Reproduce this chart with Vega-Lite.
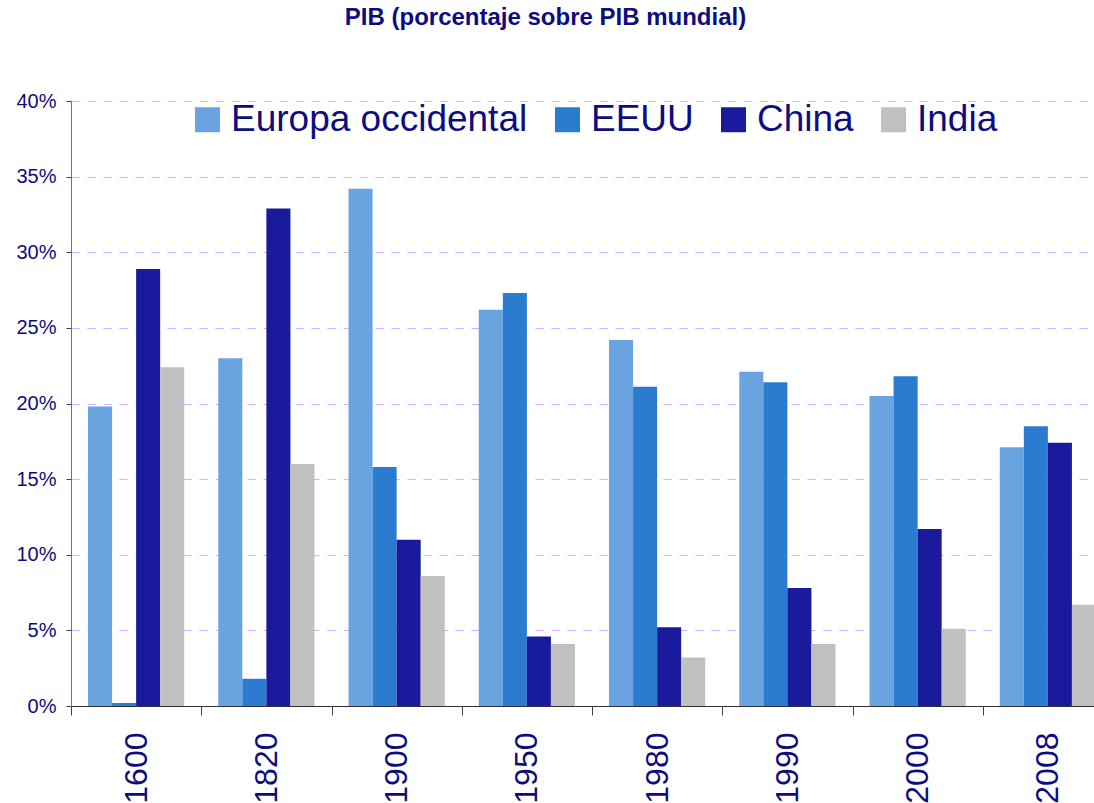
{
  "$schema": "https://vega.github.io/schema/vega-lite/v6.json",
  "autosize": {"type": "none"},
  "padding": {"left": 71, "top": 101, "right": 0, "bottom": 97},
  "width": 1023,
  "height": 605,
  "background": "white",
  "title": {
    "text": "PIB (porcentaje sobre PIB mundial)",
    "font": "Liberation Sans",
    "fontSize": 24,
    "fontWeight": "bold",
    "color": "#0D0D80",
    "anchor": "middle",
    "dx": -37,
    "offset": 61
  },
  "data": {
    "values": [
      {"year": "1600", "region": "Europa occidental", "value": 0.198},
      {"year": "1600", "region": "EEUU", "value": 0.002},
      {"year": "1600", "region": "China", "value": 0.289},
      {"year": "1600", "region": "India", "value": 0.224},
      {"year": "1820", "region": "Europa occidental", "value": 0.230},
      {"year": "1820", "region": "EEUU", "value": 0.018},
      {"year": "1820", "region": "China", "value": 0.329},
      {"year": "1820", "region": "India", "value": 0.160},
      {"year": "1900", "region": "Europa occidental", "value": 0.342},
      {"year": "1900", "region": "EEUU", "value": 0.158},
      {"year": "1900", "region": "China", "value": 0.110},
      {"year": "1900", "region": "India", "value": 0.086},
      {"year": "1950", "region": "Europa occidental", "value": 0.262},
      {"year": "1950", "region": "EEUU", "value": 0.273},
      {"year": "1950", "region": "China", "value": 0.046},
      {"year": "1950", "region": "India", "value": 0.041},
      {"year": "1980", "region": "Europa occidental", "value": 0.242},
      {"year": "1980", "region": "EEUU", "value": 0.211},
      {"year": "1980", "region": "China", "value": 0.052},
      {"year": "1980", "region": "India", "value": 0.032},
      {"year": "1990", "region": "Europa occidental", "value": 0.221},
      {"year": "1990", "region": "EEUU", "value": 0.214},
      {"year": "1990", "region": "China", "value": 0.078},
      {"year": "1990", "region": "India", "value": 0.041},
      {"year": "2000", "region": "Europa occidental", "value": 0.205},
      {"year": "2000", "region": "EEUU", "value": 0.218},
      {"year": "2000", "region": "China", "value": 0.117},
      {"year": "2000", "region": "India", "value": 0.051},
      {"year": "2008", "region": "Europa occidental", "value": 0.171},
      {"year": "2008", "region": "EEUU", "value": 0.185},
      {"year": "2008", "region": "China", "value": 0.174},
      {"year": "2008", "region": "India", "value": 0.067}
    ]
  },
  "mark": {"type": "bar"},
  "encoding": {
    "x": {
      "field": "year",
      "type": "nominal",
      "sort": null,
      "scale": {"paddingInner": 0, "paddingOuter": 0, "range": [0, 1042]},
      "axis": {
        "title": null,
        "labelAngle": -90,
        "labelFont": "Liberation Sans",
        "labelFontSize": 32,
        "labelColor": "#0D0D80",
        "labelPadding": 17,
        "tickBand": "extent",
        "tickSize": 9,
        "tickColor": "#404040",
        "domainColor": "#303030",
        "grid": false
      }
    },
    "xOffset": {
      "field": "region",
      "type": "nominal",
      "sort": ["Europa occidental", "EEUU", "China", "India"],
      "scale": {"paddingInner": 0, "paddingOuter": 0.708}
    },
    "y": {
      "field": "value",
      "type": "quantitative",
      "scale": {"domain": [0, 0.4], "nice": false},
      "axis": {
        "title": null,
        "format": ".0%",
        "values": [0, 0.05, 0.1, 0.15, 0.2, 0.25, 0.3, 0.35, 0.4],
        "labelFont": "Liberation Sans",
        "labelFontSize": 20,
        "labelColor": "#0D0D80",
        "labelPadding": 10,
        "tickSize": 5,
        "tickColor": "#404040",
        "domainColor": "#707070",
        "gridColor": "#CC99FF",
        "gridDash": [8, 8],
        "gridWidth": 1,
        "gridOpacity": 0.8
      }
    },
    "color": {
      "field": "region",
      "type": "nominal",
      "sort": ["Europa occidental", "EEUU", "China", "India"],
      "scale": {
        "domain": ["Europa occidental", "EEUU", "China", "India"],
        "range": ["#6AA4E0", "#2B7BD1", "#1A1A9C", "#C0C0C0"]
      },
      "legend": {
        "title": null,
        "orient": "none",
        "direction": "horizontal",
        "legendX": 118,
        "legendY": 0,
        "padding": 0,
        "symbolType": "square",
        "symbolSize": 625,
        "symbolStrokeWidth": 0,
        "symbolOpacity": 1,
        "labelFont": "Liberation Sans",
        "labelFontSize": 37,
        "labelColor": "#0D0D80",
        "labelOffset": 5,
        "columnPadding": 21,
        "labelLimit": 500
      }
    }
  },
  "config": {
    "view": {"stroke": null},
    "axis": {"domainWidth": 1, "tickWidth": 1}
  }
}
